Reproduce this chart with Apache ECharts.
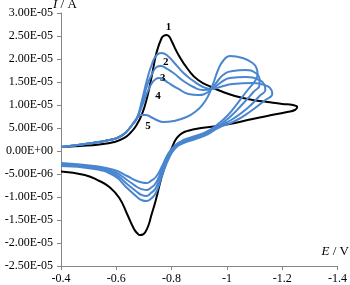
<!DOCTYPE html>
<html><head><meta charset="utf-8">
<script src="https://cdn.jsdelivr.net/npm/echarts@6/dist/echarts.min.js"></script>
<style>html,body{margin:0;padding:0;background:#fff}#c{width:350px;height:285px}</style>
</head><body><div id="c"></div>
<script>
// Potential E (V) and current I (A) pairs
const curve1 = [
 [-0.400,0.087e-5],[-0.468,0.109e-5],[-0.539,0.141e-5],[-0.593,0.196e-5],[-0.629,0.283e-5],
 [-0.654,0.413e-5],[-0.671,0.543e-5],[-0.693,0.804e-5],[-0.711,1.152e-5],[-0.729,1.652e-5],
 [-0.746,2.152e-5],[-0.764,2.457e-5],[-0.773,2.510e-5],[-0.782,2.522e-5],[-0.791,2.490e-5],
 [-0.800,2.391e-5],[-0.825,2.087e-5],
 [-0.861,1.761e-5],[-0.896,1.543e-5],[-0.943,1.391e-5],[-0.986,1.283e-5],[-1.029,1.196e-5],
 [-1.093,1.109e-5],[-1.146,1.065e-5],[-1.200,1.022e-5],[-1.239,1.000e-5],[-1.254,0.957e-5],
 [-1.246,0.891e-5],[-1.218,0.848e-5],[-1.146,0.761e-5],[-1.075,0.674e-5],[-1.029,0.609e-5],
 [-0.968,0.543e-5],[-0.907,0.500e-5],[-0.871,0.457e-5],[-0.846,0.413e-5],[-0.829,0.348e-5],
 [-0.814,0.239e-5],[-0.804,0.109e-5],[-0.793,-0.043e-5],[-0.779,-0.261e-5],[-0.761,-0.630e-5],
 [-0.743,-1.065e-5],[-0.725,-1.435e-5],[-0.718,-1.587e-5],[-0.707,-1.740e-5],[-0.696,-1.815e-5],
 [-0.686,-1.826e-5],[-0.675,-1.783e-5],[-0.664,-1.696e-5],[-0.639,-1.370e-5],[-0.611,-1.022e-5],
 [-0.575,-0.783e-5],[-0.539,-0.652e-5],[-0.486,-0.522e-5],[-0.400,-0.446e-5]
];
const curve2 = [
 [-0.400,0.087e-5],[-0.514,0.174e-5],[-0.575,0.239e-5],[-0.611,0.304e-5],[-0.636,0.413e-5],
 [-0.657,0.565e-5],[-0.675,0.717e-5],
 [-0.693,1.109e-5],[-0.711,1.543e-5],[-0.729,1.891e-5],[-0.746,2.087e-5],[-0.764,2.130e-5],
 [-0.782,2.087e-5],[-0.807,1.935e-5],[-0.843,1.696e-5],[-0.879,1.522e-5],[-0.914,1.391e-5],
 [-0.943,1.348e-5],[-0.975,1.391e-5],[-1.021,1.457e-5],[-1.093,1.478e-5],[-1.146,1.413e-5],
 [-1.161,1.326e-5],[-1.164,1.239e-5],
 [-1.139,1.109e-5],[-1.082,0.848e-5],[-1.029,0.652e-5],[-0.968,0.500e-5],[-0.932,0.370e-5],
 [-0.886,0.261e-5],[-0.843,0.174e-5],[-0.814,0.065e-5],[-0.789,-0.174e-5],[-0.764,-0.565e-5],
 [-0.743,-0.913e-5],[-0.725,-1.040e-5],[-0.709,-1.087e-5],[-0.693,-1.070e-5],[-0.675,-1.000e-5],
 [-0.639,-0.804e-5],[-0.593,-0.543e-5],[-0.521,-0.391e-5],[-0.400,-0.326e-5]
];
const curve3 = [
 [-0.400,0.087e-5],[-0.514,0.174e-5],[-0.575,0.239e-5],[-0.611,0.304e-5],[-0.636,0.413e-5],
 [-0.657,0.565e-5],[-0.675,0.717e-5],
 [-0.693,1.043e-5],[-0.711,1.413e-5],[-0.729,1.674e-5],[-0.746,1.826e-5],[-0.761,1.848e-5],
 [-0.779,1.804e-5],[-0.807,1.696e-5],[-0.843,1.522e-5],[-0.879,1.391e-5],[-0.914,1.326e-5],
 [-0.943,1.348e-5],[-0.975,1.478e-5],[-1.011,1.587e-5],[-1.068,1.609e-5],[-1.118,1.543e-5],
 [-1.136,1.435e-5],[-1.139,1.326e-5],
 [-1.118,1.196e-5],[-1.075,0.935e-5],[-1.021,0.696e-5],[-0.968,0.522e-5],[-0.932,0.391e-5],
 [-0.886,0.283e-5],[-0.843,0.196e-5],[-0.814,0.087e-5],[-0.789,-0.130e-5],[-0.764,-0.478e-5],
 [-0.743,-0.804e-5],[-0.725,-0.915e-5],[-0.709,-0.978e-5],[-0.693,-0.960e-5],[-0.675,-0.891e-5],
 [-0.639,-0.717e-5],[-0.593,-0.500e-5],[-0.521,-0.370e-5],[-0.400,-0.304e-5]
];
const curve4 = [
 [-0.400,0.087e-5],[-0.514,0.174e-5],[-0.575,0.239e-5],[-0.611,0.304e-5],[-0.636,0.413e-5],
 [-0.657,0.565e-5],[-0.675,0.717e-5],
 [-0.693,0.978e-5],[-0.711,1.261e-5],[-0.729,1.478e-5],[-0.743,1.565e-5],[-0.754,1.587e-5],
 [-0.768,1.565e-5],[-0.789,1.478e-5],[-0.825,1.348e-5],[-0.861,1.239e-5],[-0.896,1.217e-5],
 [-0.932,1.283e-5],[-0.961,1.478e-5],[-0.986,1.652e-5],[-1.021,1.739e-5],[-1.068,1.761e-5],
 [-1.104,1.696e-5],[-1.118,1.565e-5],[-1.118,1.435e-5],
 [-1.096,1.283e-5],[-1.057,1.022e-5],[-1.011,0.739e-5],[-0.968,0.543e-5],[-0.932,0.413e-5],
 [-0.886,0.304e-5],[-0.843,0.217e-5],[-0.814,0.109e-5],[-0.789,-0.087e-5],[-0.764,-0.413e-5],
 [-0.743,-0.696e-5],[-0.725,-0.800e-5],[-0.709,-0.848e-5],[-0.693,-0.830e-5],[-0.675,-0.783e-5],
 [-0.639,-0.630e-5],[-0.593,-0.457e-5],[-0.521,-0.348e-5],[-0.400,-0.283e-5]
];
const curve5 = [
 [-0.400,0.087e-5],[-0.514,0.174e-5],[-0.575,0.239e-5],[-0.611,0.304e-5],[-0.636,0.413e-5],
 [-0.657,0.565e-5],[-0.675,0.717e-5],
 [-0.693,0.783e-5],[-0.707,0.783e-5],[-0.725,0.739e-5],[-0.746,0.674e-5],[-0.771,0.630e-5],
 [-0.807,0.652e-5],[-0.854,0.739e-5],[-0.889,0.870e-5],[-0.914,1.022e-5],[-0.932,1.196e-5],
 [-0.950,1.457e-5],[-0.968,1.761e-5],[-0.986,1.957e-5],[-1.011,2.065e-5],[-1.057,2.022e-5],
 [-1.093,1.913e-5],[-1.107,1.804e-5],[-1.111,1.674e-5],
 [-1.104,1.543e-5],[-1.075,1.326e-5],[-1.039,1.043e-5],[-1.004,0.783e-5],[-0.968,0.587e-5],
 [-0.932,0.435e-5],[-0.886,0.326e-5],[-0.843,0.239e-5],[-0.814,0.130e-5],[-0.789,-0.043e-5],
 [-0.764,-0.348e-5],[-0.743,-0.565e-5],[-0.725,-0.650e-5],[-0.709,-0.696e-5],[-0.693,-0.685e-5],
 [-0.675,-0.652e-5],[-0.639,-0.543e-5],[-0.593,-0.413e-5],[-0.521,-0.326e-5],[-0.400,-0.261e-5]
];
const curveNames = ['1','2','3','4','5'];
const labelIndex = [13, 11, 11, 11, 8];
const xTicks = [-1.4, -1.2, -1.0, -0.8, -0.6, -0.4];
const yRange = [-2.5e-5, 3.0e-5];

const curves = [curve1, curve2, curve3, curve4, curve5];
const colors = ['#000000', '#4A86D0', '#4A86D0', '#4A86D0', '#4A86D0'];
const labelOffsets = [[2,-8],[4,9],[2,12],[-1,18],[2,11]];

function fmtY(v){
  if (Math.abs(v) < 1e-12) return '0.00E+00';
  const s = v.toExponential(2);
  const parts = s.split('e');
  const sign = parts[1][0];
  const d = parts[1].slice(1).padStart(2,'0');
  return parts[0] + 'E' + sign + d;
}

const series = curves.map((c, k) => ({
  type: 'line',
  name: curveNames[k],
  data: c.map((p, i) => i === labelIndex[k] ? {
    value: p,
    label: {show: true, formatter: curveNames[k], position: 'inside', offset: labelOffsets[k],
      fontFamily: 'Liberation Serif', fontWeight: 'bold', fontSize: 11, color: '#000'}
  } : p),
  smooth: 0.5,
  showSymbol: true,
  symbol: 'circle',
  symbolSize: 0,
  lineStyle: {color: colors[k], width: 2},
  itemStyle: {color: colors[k]},
  label: {show: false},
  emphasis: {disabled: true},
  animation: false,
  z: k === 0 ? 2 : 3
}));

const chart = echarts.init(document.getElementById('c'), null, {renderer: 'canvas'});
chart.setOption({
  animation: false,
  grid: {left: 61, right: 9, top: 13, bottom: 19, containLabel: false},
  xAxis: {
    type: 'value', inverse: true,
    min: xTicks[0], max: xTicks[xTicks.length-1], interval: 0.2,
    axisLine: {onZero: false, lineStyle: {color: '#868686', width: 1}},
    axisTick: {show: true, length: 4, lineStyle: {color: '#868686'}},
    splitLine: {show: false},
    axisLabel: {fontFamily: 'Liberation Serif', fontSize: 12, color: '#000', margin: 7,
      formatter: v => String(Math.round(v*10)/10)}
  },
  yAxis: {
    type: 'value', min: yRange[0], max: yRange[1], interval: 5e-6,
    axisLine: {show: true, onZero: false, lineStyle: {color: '#868686', width: 1}},
    axisTick: {show: true, length: 4, lineStyle: {color: '#868686'}},
    splitLine: {show: false},
    axisLabel: {fontFamily: 'Liberation Serif', fontSize: 12, color: '#000', margin: 8, formatter: fmtY}
  },
  graphic: [
    {type: 'text', left: 53, top: -2, style: {text: '{i|I} / A', fill: '#000',
      font: '13px "Liberation Serif"', rich: {i: {fontStyle: 'italic', fontFamily: 'Liberation Serif', fontSize: 13}}}},
    {type: 'text', right: 1, top: 245, style: {text: '{i|E} / V', fill: '#000',
      font: '13px "Liberation Serif"', rich: {i: {fontStyle: 'italic', fontFamily: 'Liberation Serif', fontSize: 13}}}}
  ],
  series: series
});
</script></body></html>
